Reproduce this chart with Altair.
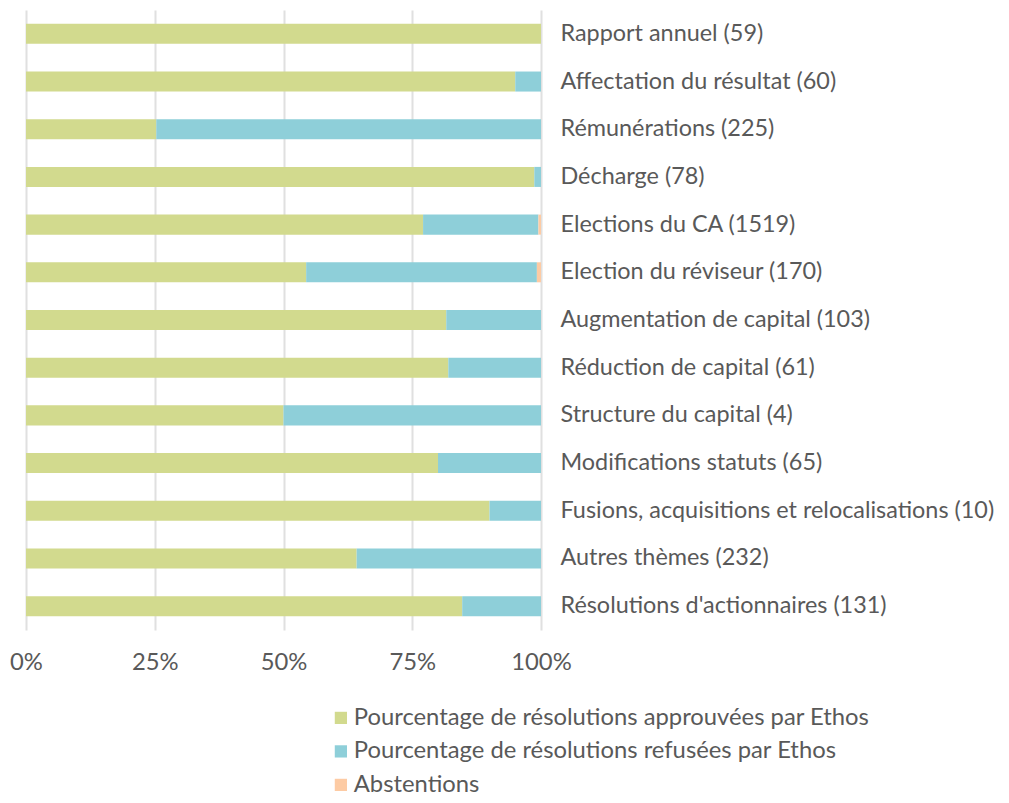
import altair as alt
import pandas as pd

categories = [
    "Rapport annuel (59)",
    "Affectation du résultat (60)",
    "Rémunérations (225)",
    "Décharge (78)",
    "Elections du CA (1519)",
    "Election du réviseur (170)",
    "Augmentation de capital (103)",
    "Réduction de capital (61)",
    "Structure du capital (4)",
    "Modifications statuts (65)",
    "Fusions, acquisitions et relocalisations (10)",
    "Autres thèmes (232)",
    "Résolutions d'actionnaires (131)",
]
approved = [100.0, 95.0, 25.3, 98.7, 77.1, 54.4, 81.6, 82.0, 50.0, 80.0, 90.0, 64.2, 84.7]
refused = [0.0, 5.0, 74.7, 1.3, 22.4, 44.8, 18.4, 18.0, 50.0, 20.0, 10.0, 35.8, 15.3]
abstentions = [0.0, 0.0, 0.0, 0.0, 0.5, 0.8, 0.0, 0.0, 0.0, 0.0, 0.0, 0.0, 0.0]

series = [
    "Pourcentage de résolutions approuvées par Ethos",
    "Pourcentage de résolutions refusées par Ethos",
    "Abstentions",
]
colors = ["#d2da8e", "#8ecfd9", "#fdcba4"]

rows = []
for i, c in enumerate(categories):
    for k, vals in enumerate([approved, refused, abstentions]):
        rows.append({"cat": c, "series": series[k], "order": k, "value": vals[i] / 100.0})
df = pd.DataFrame(rows)

FONT = "Lato"
GRAY = "#595959"
FS = 23.8

chart = alt.Chart(df).mark_bar().encode(
    y=alt.Y(
        "cat:N",
        sort=categories,
        title=None,
        scale=alt.Scale(paddingInner=0.58, paddingOuter=0.29),
        axis=alt.Axis(
            orient="right",
            domain=False,
            ticks=False,
            labelPadding=19,
            labelFont=FONT,
            labelFontSize=23.4,
            labelColor=GRAY,
            labelLimit=600,
        ),
    ),
    x=alt.X(
        "value:Q",
        stack="zero",
        title=None,
        scale=alt.Scale(domain=[0, 1], nice=False),
        axis=alt.Axis(
            values=[0, 0.25, 0.5, 0.75, 1],
            format=".0%",
            domain=False,
            ticks=False,
            grid=True,
            gridColor="#e0e0e0",
            gridWidth=2,
            labelPadding=20,
            labelFlush=False,
            labelFont=FONT,
            labelFontSize=FS,
            labelColor=GRAY,
        ),
    ),
    color=alt.Color(
        "series:N",
        scale=alt.Scale(domain=series, range=colors),
        legend=alt.Legend(
            title=None,
            orient="none",
            legendX=303,
            legendY=696,
            direction="vertical",
            symbolType="square",
            symbolSize=150,
            symbolStrokeWidth=0,
            labelFont=FONT,
            labelFontSize=FS,
            labelColor=GRAY,
            rowPadding=8.5,
            labelOffset=1,
            padding=0,
            labelLimit=700,
        ),
    ),
    order=alt.Order("order:Q"),
).properties(
    width=515,
    height=620,
    autosize=alt.AutoSizeParams(type="none"),
    padding={"left": 18, "top": 2, "right": 460, "bottom": 165},
).configure_view(stroke=None)

chart.save("out.html", embed_options={"renderer": "svg", "actions": False})
